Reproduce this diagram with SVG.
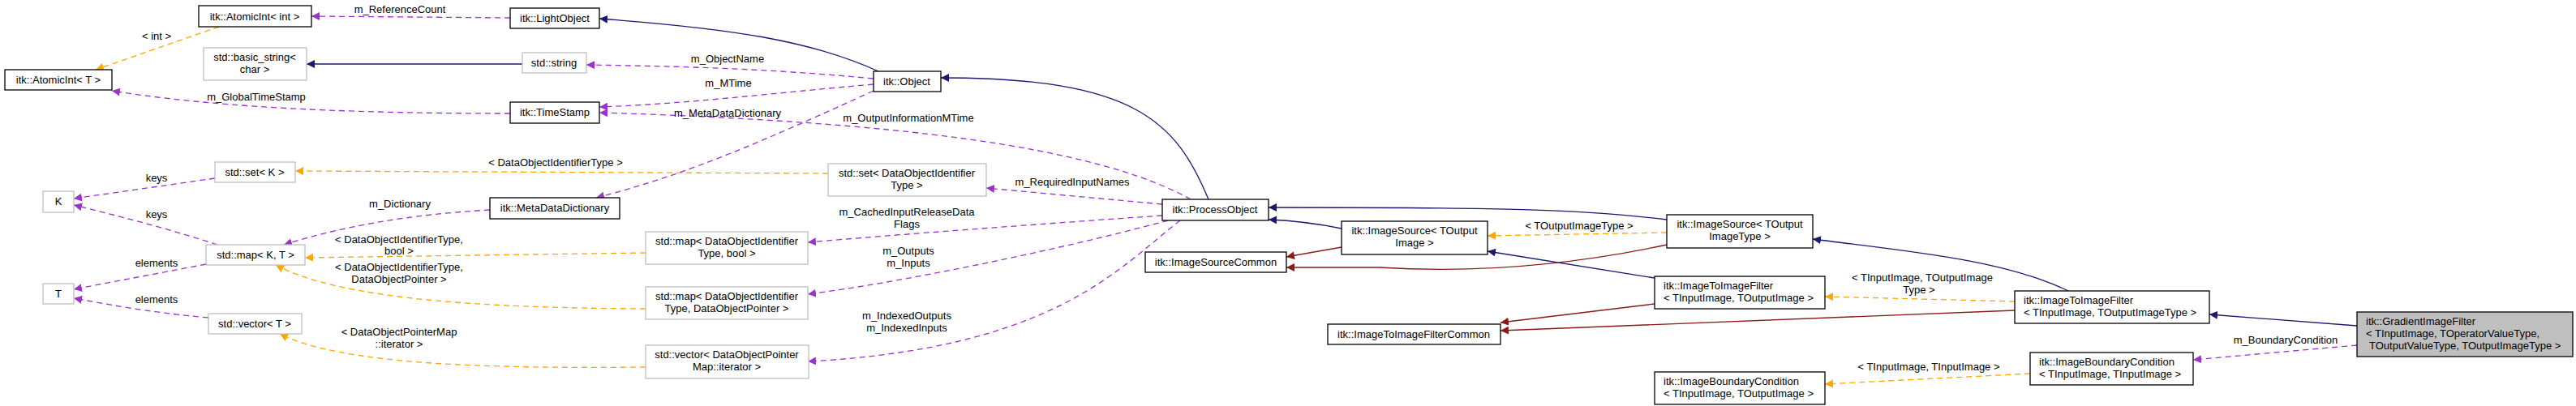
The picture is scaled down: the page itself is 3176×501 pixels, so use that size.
<svg xmlns="http://www.w3.org/2000/svg" width="3176" height="501" viewBox="0 0 3176 501">
<style>
text{font-family:"Liberation Sans",Arial,sans-serif;font-size:13px;fill:#000}
.c{text-anchor:middle}
.b{fill:#fff;stroke:#000;stroke-width:1.3}
.g{fill:#fff;stroke:#bfbfbf;stroke-width:1.3}
.h{fill:#bfbfbf;stroke:#000;stroke-width:1.3}
.inh{fill:none;stroke:#191970;stroke-width:1.3}
.red{fill:none;stroke:#8b1a1a;stroke-width:1.3}
.tpl{fill:none;stroke:#ffa500;stroke-width:1.3;stroke-dasharray:7,5}
.mem{fill:none;stroke:#9a32cd;stroke-width:1.3;stroke-dasharray:7,5}
</style>
<defs>
<marker id="aB" viewBox="0 0 10 10" refX="10" refY="5" markerWidth="10" markerHeight="10" markerUnits="userSpaceOnUse" orient="auto"><path d="M0,0L10,5L0,10z" fill="#191970"/></marker>
<marker id="aR" viewBox="0 0 10 10" refX="10" refY="5" markerWidth="10" markerHeight="10" markerUnits="userSpaceOnUse" orient="auto"><path d="M0,0L10,5L0,10z" fill="#8b1a1a"/></marker>
<marker id="aO" viewBox="0 0 10 10" refX="10" refY="5" markerWidth="10" markerHeight="10" markerUnits="userSpaceOnUse" orient="auto"><path d="M0,0L10,5L0,10z" fill="#ffa500"/></marker>
<marker id="aP" viewBox="0 0 10 10" refX="10" refY="5" markerWidth="10" markerHeight="10" markerUnits="userSpaceOnUse" orient="auto"><path d="M0,0L10,5L0,10z" fill="#9a32cd"/></marker>
</defs>
<g id="edges">
<path class="inh" marker-end="url(#aB)" d="M1083,88 C1000,50 900,35 739,23"/>
<path class="inh" marker-end="url(#aB)" d="M644,79 L378,79"/>
<path class="inh" marker-end="url(#aB)" d="M1490,246 C1450,150 1400,96 1160,96"/>
<path class="inh" marker-end="url(#aB)" d="M2055,271 C1950,258 1850,256 1564,256"/>
<path class="inh" marker-end="url(#aB)" d="M1654,282 C1620,275 1590,272 1564,271"/>
<path class="inh" marker-end="url(#aB)" d="M2040,343 L1834,310"/>
<path class="inh" marker-end="url(#aB)" d="M2550,359 C2470,320 2350,310 2235,295"/>
<path class="inh" marker-end="url(#aB)" d="M2906,402 L2724,388"/>
<path class="red" marker-end="url(#aR)" d="M1654,305 L1586,317"/>
<path class="red" marker-end="url(#aR)" d="M2055,302 C1900,335 1780,335 1700,330 L1586,330"/>
<path class="red" marker-end="url(#aR)" d="M2040,375 L1850,398"/>
<path class="red" marker-end="url(#aR)" d="M2484,383 L1850,408"/>
<path class="tpl" marker-end="url(#aO)" d="M270,33 L118,86"/>
<path class="tpl" marker-end="url(#aO)" d="M1021,214 L364,211"/>
<path class="tpl" marker-end="url(#aO)" d="M796,312 L376,318"/>
<path class="tpl" marker-end="url(#aO)" d="M796,381 C600,380 420,370 340,327"/>
<path class="tpl" marker-end="url(#aO)" d="M796,453 C600,455 420,450 345,412"/>
<path class="tpl" marker-end="url(#aO)" d="M2055,287 L1834,291"/>
<path class="tpl" marker-end="url(#aO)" d="M2484,372 L2250,366"/>
<path class="tpl" marker-end="url(#aO)" d="M2503,461 L2250,474"/>
<path class="mem" marker-end="url(#aP)" d="M629,22 L384,20"/>
<path class="mem" marker-end="url(#aP)" d="M1077,97 C950,85 850,82 723,80"/>
<path class="mem" marker-end="url(#aP)" d="M1077,104 C950,115 850,128 739,132"/>
<path class="mem" marker-end="url(#aP)" d="M629,140 C400,140 250,130 138,112"/>
<path class="mem" marker-end="url(#aP)" d="M1077,112 C950,170 850,215 735,244"/>
<path class="mem" marker-end="url(#aP)" d="M1468,246 C1350,180 1100,150 739,139"/>
<path class="mem" marker-end="url(#aP)" d="M604,259 C500,265 420,280 350,302"/>
<path class="mem" marker-end="url(#aP)" d="M265,220 L91,245"/>
<path class="mem" marker-end="url(#aP)" d="M268,302 C200,280 140,265 91,253"/>
<path class="mem" marker-end="url(#aP)" d="M254,326 L91,357"/>
<path class="mem" marker-end="url(#aP)" d="M257,392 C180,385 130,375 91,368"/>
<path class="mem" marker-end="url(#aP)" d="M1433,252 L1216,232"/>
<path class="mem" marker-end="url(#aP)" d="M1433,266 C1300,275 1100,290 996,299"/>
<path class="mem" marker-end="url(#aP)" d="M1440,272 C1300,310 1100,350 996,363"/>
<path class="mem" marker-end="url(#aP)" d="M1455,272 C1380,330 1300,430 996,446"/>
<path class="mem" marker-end="url(#aP)" d="M2906,426 L2704,444"/>
<text class="c" x="493" y="16">m_ReferenceCount</text>
<text class="c" x="193" y="49">&lt; int &gt;</text>
<text class="c" x="897" y="77">m_ObjectName</text>
<text class="c" x="898" y="107">m_MTime</text>
<text class="c" x="316" y="124">m_GlobalTimeStamp</text>
<text class="c" x="897" y="144">m_MetaDataDictionary</text>
<text class="c" x="1120" y="150">m_OutputInformationMTime</text>
<text class="c" x="685" y="205">&lt; DataObjectIdentifierType &gt;</text>
<text class="c" x="193" y="224">keys</text>
<text class="c" x="193" y="269">keys</text>
<text class="c" x="493" y="256">m_Dictionary</text>
<text class="c" x="1322" y="229">m_RequiredInputNames</text>
<text class="c" x="1118" y="266">m_CachedInputReleaseData</text>
<text class="c" x="1118" y="281">Flags</text>
<text class="c" x="492" y="300">&lt; DataObjectIdentifierType,</text>
<text class="c" x="492" y="314">bool &gt;</text>
<text class="c" x="492" y="334">&lt; DataObjectIdentifierType,</text>
<text class="c" x="492" y="349">DataObjectPointer &gt;</text>
<text class="c" x="193" y="329">elements</text>
<text class="c" x="193" y="374">elements</text>
<text class="c" x="1120" y="314">m_Outputs</text>
<text class="c" x="1120" y="329">m_Inputs</text>
<text class="c" x="492" y="414">&lt; DataObjectPointerMap</text>
<text class="c" x="492" y="429">::iterator &gt;</text>
<text class="c" x="1118" y="394">m_IndexedOutputs</text>
<text class="c" x="1118" y="409">m_IndexedInputs</text>
<text class="c" x="1947" y="283">&lt; TOutputImageType &gt;</text>
<text class="c" x="2370" y="347">&lt; TInputImage, TOutputImage</text>
<text class="c" x="2366" y="362">Type &gt;</text>
<text class="c" x="2378" y="457">&lt; TInputImage, TInputImage &gt;</text>
<text class="c" x="2818" y="424">m_BoundaryCondition</text>
</g>
<g id="n1"><rect class="b" x="245" y="7" width="139" height="26"/><text class="c" x="314" y="25">itk::AtomicInt&lt; int &gt;</text></g>
<g id="n2"><rect class="b" x="629" y="10" width="110" height="25"/><text class="c" x="684" y="27">itk::LightObject</text></g>
<g id="n3"><rect class="g" x="251" y="59" width="127" height="40"/><text class="c" x="314" y="75">std::basic_string&lt;</text><text class="c" x="314" y="90">char &gt;</text></g>
<g id="n4"><rect class="g" x="644" y="65" width="79" height="25"/><text class="c" x="683" y="82">std::string</text></g>
<g id="n5"><rect class="b" x="6" y="86" width="132" height="25"/><text class="c" x="72" y="103">itk::AtomicInt&lt; T &gt;</text></g>
<g id="n6"><rect class="b" x="629" y="126" width="110" height="26"/><text class="c" x="684" y="143">itk::TimeStamp</text></g>
<g id="n7"><rect class="b" x="1077" y="88" width="83" height="25"/><text class="c" x="1118" y="105">itk::Object</text></g>
<g id="n8"><rect class="g" x="265" y="200" width="99" height="25"/><text class="c" x="314" y="217">std::set&lt; K &gt;</text></g>
<g id="n9"><rect class="g" x="53" y="236" width="38" height="26"/><text class="c" x="72" y="253">K</text></g>
<g id="n10"><rect class="b" x="604" y="244" width="160" height="26"/><text class="c" x="684" y="261">itk::MetaDataDictionary</text></g>
<g id="n11"><rect class="g" x="254" y="302" width="122" height="25"/><text class="c" x="315" y="319">std::map&lt; K, T &gt;</text></g>
<g id="n12"><rect class="g" x="53" y="350" width="38" height="25"/><text class="c" x="72" y="367">T</text></g>
<g id="n13"><rect class="g" x="257" y="387" width="115" height="25"/><text class="c" x="314" y="404">std::vector&lt; T &gt;</text></g>
<g id="n14"><rect class="g" x="1021" y="202" width="195" height="40"/><text class="c" x="1118" y="218">std::set&lt; DataObjectIdentifier</text><text class="c" x="1118" y="233">Type &gt;</text></g>
<g id="n15"><rect class="b" x="1433" y="246" width="131" height="26"/><text class="c" x="1498" y="263">itk::ProcessObject</text></g>
<g id="n16"><rect class="g" x="796" y="286" width="200" height="40"/><text class="c" x="896" y="302">std::map&lt; DataObjectIdentifier</text><text class="c" x="896" y="317">Type, bool &gt;</text></g>
<g id="n17"><rect class="g" x="796" y="354" width="200" height="40"/><text class="c" x="896" y="370">std::map&lt; DataObjectIdentifier</text><text class="c" x="896" y="385">Type, DataObjectPointer &gt;</text></g>
<g id="n18"><rect class="g" x="796" y="426" width="201" height="41"/><text class="c" x="896" y="442">std::vector&lt; DataObjectPointer</text><text class="c" x="896" y="457">Map::iterator &gt;</text></g>
<g id="n19"><rect class="b" x="1412" y="311" width="174" height="25"/><text class="c" x="1499" y="328">itk::ImageSourceCommon</text></g>
<g id="n20"><rect class="b" x="1654" y="273" width="180" height="41"/><text class="c" x="1744" y="289">itk::ImageSource&lt; TOutput</text><text class="c" x="1744" y="304">Image &gt;</text></g>
<g id="n21"><rect class="b" x="2055" y="265" width="180" height="41"/><text class="c" x="2145" y="281">itk::ImageSource&lt; TOutput</text><text class="c" x="2145" y="296">ImageType &gt;</text></g>
<g id="n22"><rect class="b" x="2040" y="341" width="210" height="40"/><text x="2051" y="357">itk::ImageToImageFilter</text><text x="2051" y="372">&lt; TInputImage, TOutputImage &gt;</text></g>
<g id="n23"><rect class="b" x="1637" y="400" width="213" height="25"/><text class="c" x="1743" y="417">itk::ImageToImageFilterCommon</text></g>
<g id="n24"><rect class="b" x="2040" y="459" width="210" height="40"/><text x="2051" y="475">itk::ImageBoundaryCondition</text><text x="2051" y="490">&lt; TInputImage, TOutputImage &gt;</text></g>
<g id="n25"><rect class="b" x="2484" y="359" width="240" height="40"/><text x="2495" y="375">itk::ImageToImageFilter</text><text x="2495" y="390">&lt; TInputImage, TOutputImageType &gt;</text></g>
<g id="n26"><rect class="b" x="2503" y="435" width="201" height="40"/><text x="2514" y="451">itk::ImageBoundaryCondition</text><text x="2514" y="466">&lt; TInputImage, TInputImage &gt;</text></g>
<g id="n27"><rect class="h" x="2906" y="385" width="266" height="55"/><text x="2917" y="401">itk::GradientImageFilter</text><text x="2917" y="416">&lt; TInputImage, TOperatorValueType,</text><text x="2921" y="431">TOutputValueType, TOutputImageType &gt;</text></g>
</svg>
